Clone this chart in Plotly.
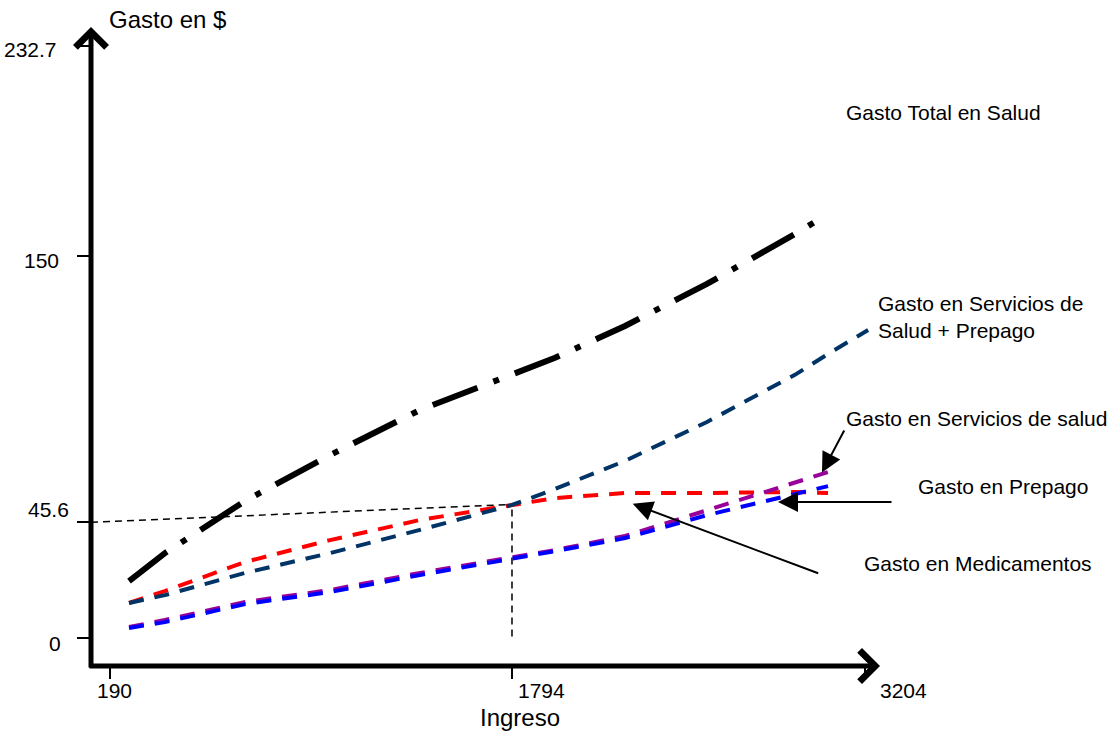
import plotly.graph_objects as go

# ---------------- data ----------------
ingreso = [266, 409, 729, 1068, 1427, 1794, 1966, 2245, 2572, 2923, 3055]
ingreso_serv_prepago = [266, 409, 729, 1068, 1427, 1794, 1966, 2245, 2572, 2923, 3055, 3215]

gasto_total = [22.5, 33.5, 54.0, 72.0, 89.7, 104.0, 110.2, 122.7, 139.2, 158.8, 166.7]
gasto_serv_prepago = [13.9, 17.0, 25.7, 33.5, 42.6, 52.4, 58.7, 69.7, 85.0, 103.5, 111.7, 121.1]
gasto_prepago = [13.9, 18.6, 30.0, 38.6, 46.5, 52.6, 55.1, 57.1, 57.1, 57.5, 57.1]
gasto_serv_salud = [4.5, 7.2, 14.3, 19.0, 25.7, 31.6, 34.7, 40.2, 50.4, 61.0, 65.3]
gasto_medicamentos = [4.1, 6.4, 13.5, 18.2, 24.9, 31.2, 34.3, 39.4, 48.4, 56.7, 59.8]

x_ticks = [190, 1794, 3204]
x_tick_labels = ["190", "1794", "3204"]
y_ticks = [0, 45.6, 150, 232.7]
y_tick_labels = ["0", "45.6", "150", "232.7"]

x_title = "Ingreso"
y_title = "Gasto en $"
series_labels = {
    "total": "Gasto Total en Salud",
    "serv_prepago": "Gasto en Servicios de<br>Salud + Prepago",
    "serv_salud": "Gasto en Servicios de salud",
    "prepago": "Gasto en Prepago",
    "medicamentos": "Gasto en Medicamentos",
}

# ---------------- layout geometry ----------------
W, H = 1117, 733
ML, MR, MT, MB = 91, 237, 28, 67
X_RANGE = [114.2, 3262.4]
Y_RANGE = [-10.84, 239.7]
PW, PH = W - ML - MR, H - MT - MB

def px_x(px):
    return (px - ML) / PW

def px_y(py):
    return (H - MB - py) / PH

FONT = "Liberation Sans, Arial, sans-serif"
FS = 21
FS_TITLE = 24

fig = go.Figure()

def dashed(x, y, color):
    fig.add_trace(go.Scatter(x=x, y=y, mode="lines",
                             line=dict(color=color, width=4, dash="15px,11px"),
                             showlegend=False, hoverinfo="skip"))

# reference dashed lines (45.6 at 1794)
fig.add_trace(go.Scatter(x=[X_RANGE[0], x_ticks[1]], y=[y_ticks[1], gasto_prepago[5]],
                         mode="lines", line=dict(color="black", width=1.5, dash="7px,5px"),
                         showlegend=False, hoverinfo="skip"))
fig.add_trace(go.Scatter(x=[x_ticks[1], x_ticks[1]], y=[gasto_prepago[5] - 2, y_ticks[0]],
                         mode="lines", line=dict(color="black", width=1.5, dash="7px,5px"),
                         showlegend=False, hoverinfo="skip"))

dashed(ingreso, gasto_prepago, "#FF0000")
dashed(ingreso, gasto_serv_salud, "#990099")
dashed(ingreso, gasto_medicamentos, "#0000FF")
dashed(ingreso_serv_prepago, gasto_serv_prepago, "#003366")

fig.add_trace(go.Scatter(x=ingreso, y=gasto_total, mode="lines",
                         line=dict(color="black", width=6, dash="48px,17px,6px,17px"),
                         showlegend=False, hoverinfo="skip"))

annotations = []

# axis lines with chevron arrowheads
annotations.append(dict(xref="paper", yref="paper", x=px_x(880), y=px_y(666),
                        ax=-(880 - 88), ay=0, axref="pixel", ayref="pixel",
                        showarrow=True, arrowhead=4, arrowwidth=5, arrowsize=1.2,
                        arrowcolor="black", text=""))
annotations.append(dict(xref="paper", yref="paper", x=px_x(91), y=px_y(27),
                        ax=0, ay=(669 - 27), axref="pixel", ayref="pixel",
                        showarrow=True, arrowhead=4, arrowwidth=5, arrowsize=1.2,
                        arrowcolor="black", text=""))

# tick labels
y_label_shift = [(-28, -4.6), (-20, 12.3), (-30, -3.6), (-32, -3.2)]
for v, t, (dx, dy) in zip(y_ticks, y_tick_labels, y_label_shift):
    annotations.append(dict(xref="paper", yref="y", x=0, y=v, text=t, showarrow=False,
                            xanchor="right", yanchor="middle", xshift=dx, yshift=dy,
                            font=dict(family=FONT, size=FS, color="black")))
x_label_shift = [4.5, 29.5, 38]
for v, t, dx in zip(x_ticks, x_tick_labels, x_label_shift):
    annotations.append(dict(xref="x", yref="paper", x=v, y=px_y(690), text=t, showarrow=False,
                            xanchor="center", yanchor="middle", xshift=dx,
                            font=dict(family=FONT, size=FS, color="black")))

# axis titles
annotations.append(dict(xref="paper", yref="paper", x=px_x(520), y=px_y(717), text=x_title,
                        showarrow=False, xanchor="center", yanchor="middle",
                        font=dict(family=FONT, size=FS_TITLE, color="black")))
annotations.append(dict(xref="paper", yref="paper", x=px_x(107), y=px_y(20), text=y_title,
                        showarrow=False, xanchor="left", yanchor="middle",
                        font=dict(family=FONT, size=FS_TITLE, color="black")))

# series labels
label_pos = {
    "total": (844, 113),
    "serv_prepago": (876, 317.5),
    "serv_salud": (844, 418),
    "prepago": (916, 486),
    "medicamentos": (862, 563),
}
for k, (px, py) in label_pos.items():
    annotations.append(dict(xref="paper", yref="paper", x=px_x(px), y=px_y(py),
                            text=series_labels[k], showarrow=False, align="left",
                            xanchor="left", yanchor="middle",
                            font=dict(family=FONT, size=FS, color="black")))

# pointer arrows (tip px, tail offset px)
pointers = [((822, 472.5), (23, -43.5)),
            ((778, 502), (115, 0)),
            ((632.7, 503.8), (187, 70))]
for (tx, ty), (ax, ay) in pointers:
    annotations.append(dict(xref="paper", yref="paper", x=px_x(tx), y=px_y(ty),
                            ax=ax, ay=ay, axref="pixel", ayref="pixel", text="",
                            showarrow=True, arrowhead=2, arrowwidth=2, arrowsize=2,
                            arrowcolor="black"))

fig.update_layout(
    width=W, height=H,
    margin=dict(l=ML, r=MR, t=MT, b=MB, pad=0),
    paper_bgcolor="white", plot_bgcolor="white",
    showlegend=False,
    font=dict(family=FONT, size=FS, color="black"),
    annotations=annotations,
    xaxis=dict(range=X_RANGE, showgrid=False, zeroline=False, showline=False,
               tickvals=x_ticks, showticklabels=False, ticks="outside",
               ticklen=12, tickwidth=2, tickcolor="black", fixedrange=True),
    yaxis=dict(range=Y_RANGE, showgrid=False, zeroline=False, showline=False,
               tickvals=y_ticks, showticklabels=False, ticks="outside",
               ticklen=13, tickwidth=2, tickcolor="black", fixedrange=True),
)

fig.write_html("out.html", config={"displayModeBar": False},
               post_script="document.body.style.margin='0';document.body.style.overflow='hidden';")
